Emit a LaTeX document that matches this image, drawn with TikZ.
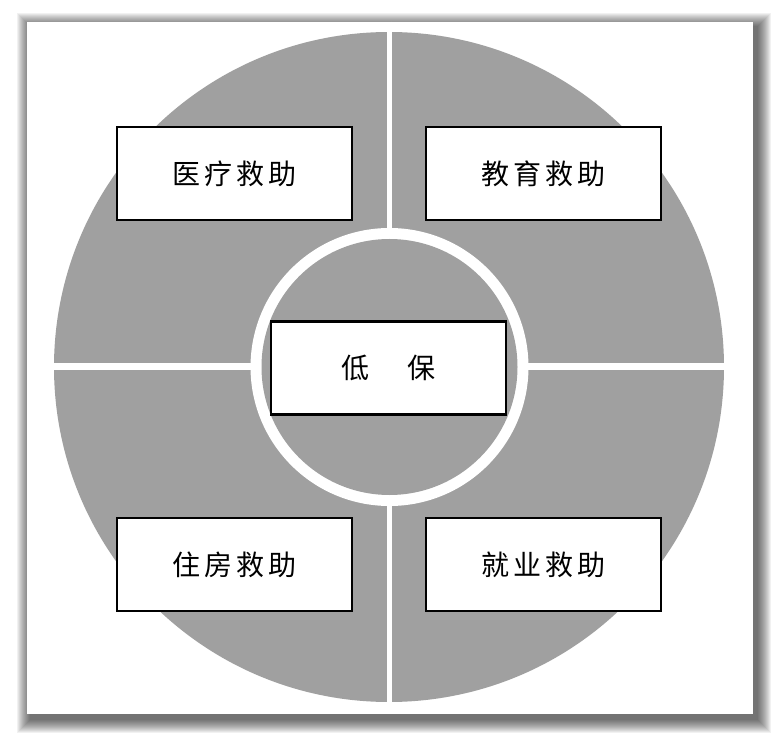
\documentclass[tikz,border=0pt]{standalone}
\usepackage{fontspec}
\newfontfamily\cjk{Noto Sans CJK SC}
\definecolor{discgray}{RGB}{160,160,160}
\begin{document}
\begin{tikzpicture}[x=1pt,y=-1pt,
  box/.style={draw=black, line width=2.5pt, fill=white, minimum width=235pt,
    minimum height=93pt, inner sep=0pt, font=\cjk\fontsize{28}{30}\selectfont},
  gap/.style={white, line width=#1}]
\useasboundingbox (0,0) rectangle (780,746);
% frame shadow
\foreach \e in {1,...,14}
  \fill[black, opacity=0.055] (31-\e,27-\e) rectangle (757+\e,719+\e);
\fill[white] (27,22) rectangle (753,714);
% disc
\fill[discgray] (389,367) circle[radius=335];
\draw[gap=5pt] (389.5,22) -- (389.5,714);
\draw[gap=7pt] (45,367) -- (735,367);
\fill[white] (389.5,367) circle[radius=139];
\fill[discgray] (389.5,367) circle[radius=128];
% boxes
\node[box] (yiliao) at (234.5,173.5) {医\kern4pt 疗\kern4pt 救\kern4pt 助};
\node[box] (jiaoyu) at (543.5,173.5) {教\kern4pt 育\kern4pt 救\kern4pt 助};
\node[box] (zhufang) at (234.5,564.5) {住\kern4pt 房\kern4pt 救\kern4pt 助};
\node[box] (jiuye) at (543.5,564.5) {就\kern4pt 业\kern4pt 救\kern4pt 助};
\node[box] (dibao) at (388.5,368) {低\hspace{38pt}保};
\end{tikzpicture}
\end{document}
